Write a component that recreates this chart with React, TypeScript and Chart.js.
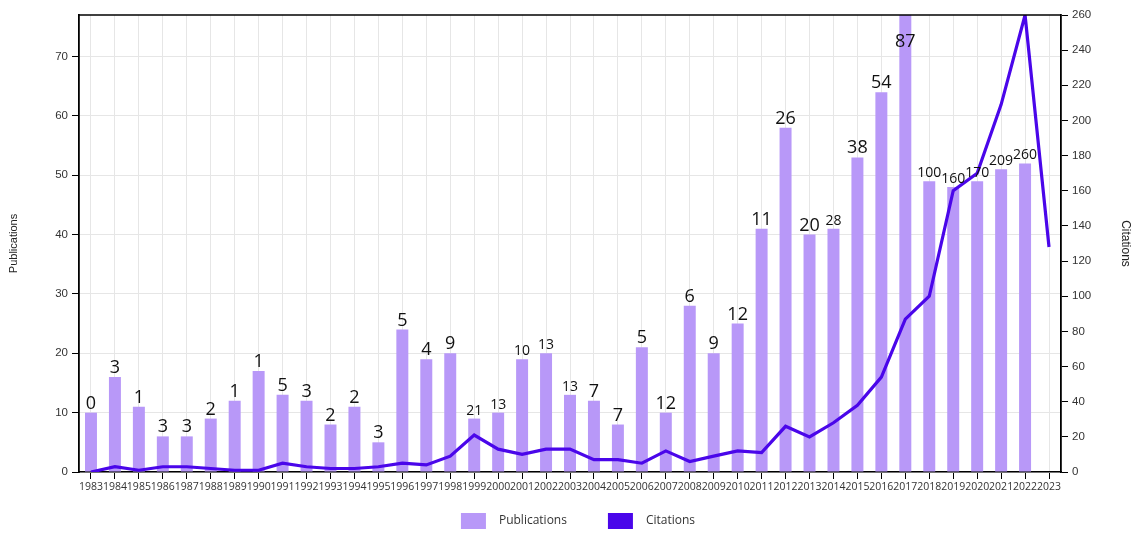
import React, { useEffect, useRef } from "react";
import { Chart, registerables } from "chart.js";

Chart.register(...registerables);

const years: string[] = [
  "1983","1984","1985","1986","1987","1988","1989","1990","1991","1992",
  "1993","1994","1995","1996","1997","1998","1999","2000","2001","2002",
  "2003","2004","2005","2006","2007","2008","2009","2010","2011","2012",
  "2013","2014","2015","2016","2017","2018","2019","2020","2021","2022","2023",
];

const publications: (number | null)[] = [
  10, 16, 11, 6, 6, 9, 12, 17, 13, 12,
  8, 11, 5, 24, 19, 20, 9, 10, 19, 20,
  13, 12, 8, 21, 10, 28, 20, 25, 41, 58,
  40, 41, 53, 64, 80, 49, 48, 49, 51, 52, null,
];

const citations: number[] = [
  0, 3, 1, 3, 3, 2, 1, 1, 5, 3,
  2, 2, 3, 5, 4, 9, 21, 13, 10, 13,
  13, 7, 7, 5, 12, 6, 9, 12, 11, 26,
  20, 28, 38, 54, 87, 100, 160, 170, 209, 260, 128,
];

const smallLabelYears: string[] = [
  "1999","2000","2001","2002","2003","2014","2018","2019","2020","2021","2022",
];

const BAR_COLOR = "#b898f8";
const LINE_COLOR = "#4a06ea";
const FONT = "'Liberation Sans', Arial, sans-serif";
const LABEL_FONT = "'Open Sans', 'Noto Sans', sans-serif";

const dataLabelPlugin = {
  id: "dataLabels",
  afterDatasetsDraw(chart: any) {
    const meta = chart.getDatasetMeta(1);
    const ctx = chart.ctx;
    const area = chart.chartArea;
    ctx.save();
    ctx.fillStyle = "#111";
    ctx.textAlign = "center";
    ctx.textBaseline = "alphabetic";
    meta.data.forEach((el: any, i: number) => {
      if (publications[i] === null) return;
      const small = smallLabelYears.includes(years[i]);
      ctx.font = `${small ? 14 : 18}px ${LABEL_FONT}`;
      let y = el.y - 4;
      if (el.y < area.top + 20) y = area.top + 32;
      ctx.fillText(String(citations[i]), el.x, y);
    });
    ctx.restore();
  },
};

const framePlugin = {
  id: "frame",
  afterDraw(chart: any) {
    const ctx = chart.ctx;
    const a = chart.chartArea;
    ctx.save();
    ctx.strokeStyle = "#000";
    ctx.lineWidth = 1.5;
    ctx.beginPath();
    ctx.moveTo(a.left, a.top);
    ctx.lineTo(a.right, a.top);
    ctx.stroke();

    // custom legend
    const items = [
      { label: chart.data.datasets[1].label, color: BAR_COLOR },
      { label: chart.data.datasets[0].label, color: LINE_COLOR },
    ];
    ctx.font = `12px ${LABEL_FONT}`;
    const boxW = 25, boxH = 16, gap = 13, spacing = 41;
    const widths = items.map((it) => boxW + gap + ctx.measureText(it.label).width);
    const total = widths.reduce((s, w) => s + w, 0) + spacing * (items.length - 1);
    let x = (a.left + a.right) / 2 + 8 - total / 2;
    const cy = 521;
    items.forEach((it, i) => {
      ctx.fillStyle = it.color;
      ctx.fillRect(x, cy - boxH / 2, boxW, boxH);
      ctx.fillStyle = "#333";
      ctx.textAlign = "left";
      ctx.textBaseline = "middle";
      ctx.fillText(it.label, x + boxW + gap, cy);
      x += widths[i] + spacing;
    });
    ctx.restore();
  },
};

export default function App() {
  const ref = useRef<HTMLCanvasElement | null>(null);

  useEffect(() => {
    if (!ref.current) return;
    const chart = new Chart(ref.current, {
      type: "bar",
      data: {
        labels: years,
        datasets: [
          {
            type: "line",
            label: "Citations",
            data: citations,
            yAxisID: "y1",
            borderColor: LINE_COLOR,
            backgroundColor: LINE_COLOR,
            borderWidth: 3.2,
            pointRadius: 0,
            tension: 0,
            order: 0,
          } as any,
          {
            type: "bar",
            label: "Publications",
            data: publications,
            yAxisID: "y",
            backgroundColor: BAR_COLOR,
            barPercentage: 0.5,
            categoryPercentage: 1,
            order: 1,
          },
        ],
      },
      options: {
        responsive: false,
        animation: false,
        layout: { padding: { top: 15, bottom: 56, left: 0, right: 0 } },
        plugins: {
          legend: { display: false },
          tooltip: { enabled: false },
        },
        scales: {
          x: {
            grid: { color: "#e6e6e6", tickColor: "#000", tickLength: 7, offset: false },
            border: { color: "#000", width: 1.5 },
            ticks: {
              autoSkip: false,
              maxRotation: 0,
              minRotation: 0,
              padding: 2,
              color: "#333",
              font: { family: LABEL_FONT, size: 10.5 },
            },
            afterFit(scale: any) {
              scale.height = 30;
            },
          },
          y: {
            position: "left",
            min: 0,
            max: 77,
            ticks: {
              stepSize: 10,
              color: "#333",
              padding: 4,
              font: { family: FONT, size: 11.5 },
            },
            afterBuildTicks(scale: any) {
              scale.ticks = scale.ticks.filter((t: any) => t.value % 10 === 0);
            },
            grid: { color: "#e6e6e6", tickColor: "#000", tickLength: 7 },
            border: { color: "#000", width: 1.8 },
            title: {
              display: true,
              text: "Publications",
              color: "#222",
              font: { family: FONT, size: 11 },
              padding: { top: 7, bottom: 0 },
            },
            afterFit(scale: any) {
              scale.width = 79;
            },
          },
          y1: {
            position: "right",
            min: 0,
            max: 260,
            ticks: {
              stepSize: 20,
              color: "#333",
              padding: 4,
              font: { family: FONT, size: 11.5 },
            },
            grid: { drawOnChartArea: false, tickColor: "#000", tickLength: 7 },
            border: { color: "#000", width: 1.8 },
            title: {
              display: true,
              text: "Citations",
              color: "#222",
              font: { family: FONT, size: 12 },
              padding: { top: 8, bottom: 0 },
            },
            afterFit(scale: any) {
              scale.width = 80;
            },
          },
        },
      },
      plugins: [dataLabelPlugin, framePlugin],
    } as any);
    return () => chart.destroy();
  }, []);

  return (
    <div style={{ position: "fixed", left: 0, top: 0, width: 1141, height: 558, background: "#fff" }}>
      <canvas ref={ref} width={1141} height={558} />
    </div>
  );
}
